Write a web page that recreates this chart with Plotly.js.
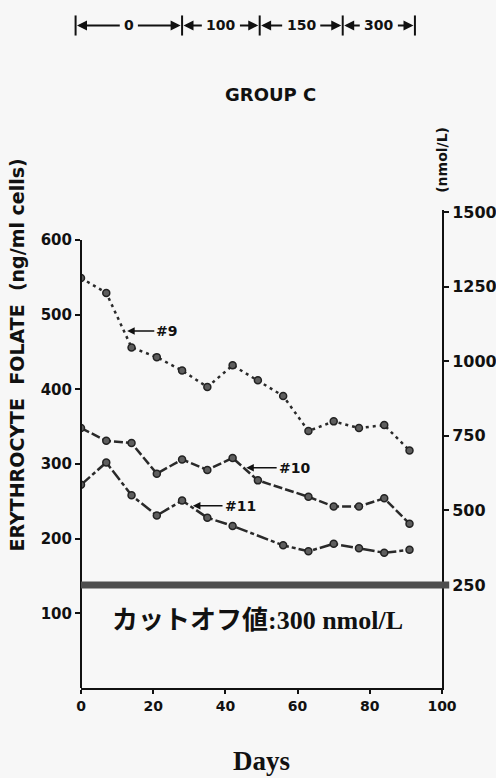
<!DOCTYPE html>
<html>
<head>
<meta charset="utf-8">
<script src="https://cdn.plot.ly/plotly-3.0.1.min.js"></script>
<style>
html,body{margin:0;padding:0;background:#f7f7f7;}
#chart{width:496px;height:778px;}
</style>
</head>
<body>
<div id="chart"></div>
<script>
// ---- data ----
const days9  = [0, 7, 14, 21, 28, 35, 42, 49, 56, 63, 70, 77, 84, 91];
const vals9  = [549, 529, 456, 443, 425, 403, 432, 412, 391, 344, 357, 348, 352, 318];
const days10 = [0, 7, 14, 21, 28, 35, 42, 49, 63, 70, 77, 84, 91];
const vals10 = [348, 331, 328, 287, 306, 292, 308, 278, 256, 243, 243, 254, 220];
const days11 = [0, 7, 14, 21, 28, 35, 42, 56, 63, 70, 77, 84, 91];
const vals11 = [272, 302, 258, 231, 251, 228, 217, 191, 183, 193, 187, 181, 185];
const seriesNames = ['#9', '#10', '#11'];
const xTicks = [0, 20, 40, 60, 80, 100];
const yTicksLeft = [100, 200, 300, 400, 500, 600];
const yTicksRight = [250, 500, 750, 1000, 1250, 1500];
const doseLabels = ['0', '100', '150', '300'];
const doseBounds = [-1.5, 28, 49.5, 72.5, 92.5];
const cutoffRight = 250;
const cutoffText = 'カットオフ値:300 nmol/L';

const X_MIN = 0, X_MAX = 100;
const lineColor = '#2a2a2a';
const markerStyle = {symbol: 'circle', size: 7, color: '#5e5e5e', line: {color: '#222', width: 1.5}};
function tr(x, y, name, dash) {
  return {x: x, y: y, name: name, type: 'scatter', mode: 'lines+markers',
    line: {color: lineColor, width: 2.5, dash: dash}, marker: markerStyle,
    cliponaxis: true, showlegend: false, hoverinfo: 'skip'};
}
const traces = [
  tr(days9, vals9, seriesNames[0], '3px,4px'),
  tr(days10, vals10, seriesNames[1], '9px,3px'),
  tr(days11, vals11, seriesNames[2], '12px,3px,4px,3px'),
  {x: [0], y: [cutoffRight], yaxis: 'y2', type: 'scatter', mode: 'markers',
   marker: {opacity: 0}, showlegend: false, hoverinfo: 'skip'}
];

const bold = (size, fam) => ({family: fam || 'DejaVu Sans', size: size, color: '#111', weight: 'bold'});
const shapes = [
  // left axis line from 0 to 600
  {type: 'line', xref: 'paper', yref: 'y', x0: 0, x1: 0, y0: 0, y1: 600,
   line: {color: '#111', width: 2}},
  // cutoff band
  {type: 'line', xref: 'paper', yref: 'y2', x0: 0, x1: 1.02, y0: cutoffRight, y1: cutoffRight,
   line: {color: '#4e4e4e', width: 7}}
];
// header dose bars (paper coordinates, converted from days)
const toPaper = d => (d - X_MIN) / (X_MAX - X_MIN);
const hdrY = 1.386;
doseBounds.forEach(b => {
  shapes.push({type: 'line', xref: 'paper', yref: 'paper', x0: toPaper(b), x1: toPaper(b),
    y0: hdrY - 0.021, y1: hdrY + 0.021, line: {color: '#111', width: 2}});
});
const annotations = [];
const pxPerDay = 361 / (X_MAX - X_MIN);
doseLabels.forEach((lab, i) => {
  const a = doseBounds[i], b = doseBounds[i + 1], m = (a + b) / 2;
  annotations.push({xref: 'paper', yref: 'paper', x: toPaper(m), y: hdrY, xanchor: 'center', yanchor: 'middle',
    text: lab, showarrow: false, font: bold(14)});
  const half = 5 * lab.length + 4;
  const dl = (m - a) * pxPerDay - half, dr = (b - m) * pxPerDay - half;
  annotations.push({xref: 'paper', yref: 'paper', x: toPaper(a) + 0.004, y: hdrY, text: '', showarrow: true,
    ax: dl, ay: 0, arrowhead: 2, arrowsize: 1, arrowwidth: 2, arrowcolor: '#111', standoff: 0});
  annotations.push({xref: 'paper', yref: 'paper', x: toPaper(b) - 0.004, y: hdrY, text: '', showarrow: true,
    ax: -dr, ay: 0, arrowhead: 2, arrowsize: 1, arrowwidth: 2, arrowcolor: '#111', standoff: 0});
});
annotations.push(
  {xref: 'paper', yref: 'paper', x: 0.525, y: 1.241, xanchor: 'center', yanchor: 'middle',
   text: 'GROUP C', showarrow: false, font: bold(18)},
  {xref: 'paper', yref: 'paper', x: -0.178, y: 0.697, xanchor: 'center', yanchor: 'middle',
   text: 'ERYTHROCYTE  FOLATE  (ng/ml cells)', textangle: -90, showarrow: false, font: bold(19)},
  {xref: 'paper', yref: 'paper', x: 1.0, y: 1.105, xanchor: 'center', yanchor: 'middle',
   text: '(nmol/L)', textangle: -90, showarrow: false, font: bold(14)},
  {xref: 'paper', yref: 'paper', x: 0.488, y: 0.142, xanchor: 'center', yanchor: 'middle',
   text: cutoffText, showarrow: false, font: bold(26, 'Liberation Serif, Noto Sans CJK JP')},
  // series labels
  {xref: 'x', yref: 'y', x: 12.8, y: 478, ax: 20.3, ay: 478, axref: 'x', ayref: 'y', text: '#9',
   xanchor: 'left', showarrow: true, arrowhead: 2, arrowsize: 1, arrowwidth: 1.5, arrowcolor: '#111',
   font: bold(14)},
  {xref: 'x', yref: 'y', x: 45.8, y: 295, ax: 54.2, ay: 295, axref: 'x', ayref: 'y', text: '#10',
   xanchor: 'left', showarrow: true, arrowhead: 2, arrowsize: 1, arrowwidth: 1.5, arrowcolor: '#111',
   font: bold(14)},
  {xref: 'x', yref: 'y', x: 31.0, y: 244, ax: 39.2, ay: 244, axref: 'x', ayref: 'y', text: '#11',
   xanchor: 'left', showarrow: true, arrowhead: 2, arrowsize: 1, arrowwidth: 1.5, arrowcolor: '#111',
   font: bold(14)}
);

const layout = {
  width: 496, height: 778,
  margin: {l: 81, r: 54, t: 210, b: 90},
  paper_bgcolor: '#f7f7f7', plot_bgcolor: '#f7f7f7',
  showlegend: false,
  xaxis: {range: [X_MIN, X_MAX], tickvals: xTicks, ticktext: xTicks.map(String), ticks: 'outside', ticklen: 4,
    tickwidth: 2, tickcolor: '#111', showline: true, linecolor: '#111', linewidth: 2, showgrid: false,
    zeroline: false, tickfont: bold(14),
    title: {text: 'Days', standoff: 38, font: bold(27, 'Liberation Serif')}},
  yaxis: {range: [0, 640], tickvals: yTicksLeft, ticktext: yTicksLeft.map(String), ticks: 'outside', ticklen: 5,
    tickwidth: 2, tickcolor: '#111', showline: false, showgrid: false, zeroline: false, tickfont: bold(15)},
  yaxis2: {overlaying: 'y', side: 'right', anchor: 'x', range: [-95, 1507], tickvals: yTicksRight,
    ticktext: yTicksRight.map(String), ticks: 'outside', ticklen: 5, tickwidth: 2, tickcolor: '#111',
    showline: true, linecolor: '#111', linewidth: 2, showgrid: false, zeroline: false,
    tickfont: bold(16)},
  shapes: shapes,
  annotations: annotations
};
Plotly.newPlot('chart', traces, layout, {displayModeBar: false, staticPlot: true});
</script>
</body>
</html>
